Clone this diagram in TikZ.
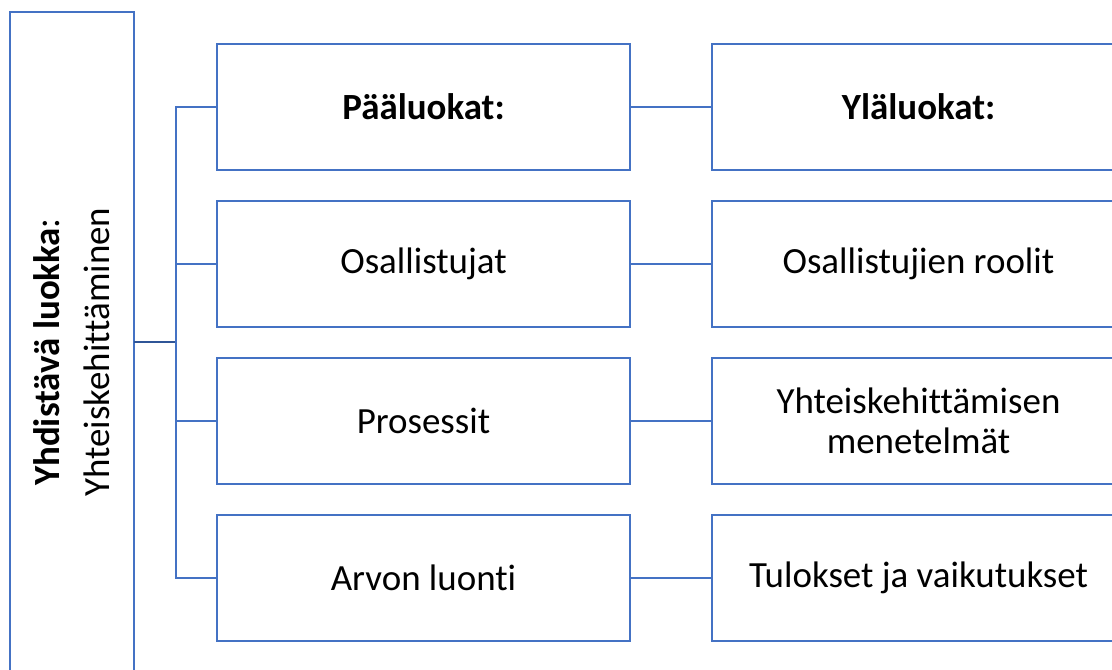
\documentclass[tikz,border=0pt]{standalone}
\usepackage{fontspec}
\setmainfont[Ligatures=NoCommon]{Carlito}
\usetikzlibrary{positioning}
\definecolor{boxblue}{RGB}{68,114,196}
\definecolor{linkblue}{RGB}{47,85,151}
\tikzset{
  catbox/.style={draw=boxblue,line width=2.1pt,minimum width=309.75pt,minimum height=94.5pt,
    inner sep=0pt,align=center,font=\fontsize{27.7}{30}\selectfont},
  link/.style={draw=boxblue,line width=1.6pt},
}

\begin{document}
\begin{tikzpicture}[x=0.75pt,y=-0.75pt]
  \useasboundingbox (0,0) rectangle (1112,670);
  \begin{scope}
  \clip (0,0) rectangle (1112,670);
  % left column, runs past the bottom edge
  \draw[boxblue,line width=2.1pt] (10,12) rectangle (134,720);
  \node [rotate=90,align=center,font=\fontsize{27.7}{37.5}\selectfont] (yhd) at (72,352)
    {\textbf{Yhdistävä luokka}:\\Yhteiskehittäminen};
  \coordinate (root) at (134,342);
  % main classes
  \node [catbox] (paa) at (423.5,107) {\textbf{Pääluokat:}};
  \node [catbox] (osa) at (423.5,264) {Osallistujat};
  \node [catbox] (pro) at (423.5,421) {Prosessit};
  \node [catbox] (arv) at (423.5,578) {Arvon luonti};
  % upper classes
  \node [catbox] (yla) at (918.5,107) {\textbf{Yläluokat:}};
  \node [catbox] (rol) at (918.5,264) {Osallistujien roolit};
  \node [catbox] (men) at (918.5,421) {Yhteiskehittämisen\\menetelmät};
  \node [catbox] (tul) at (918.5,578) {Tulokset ja vaikutukset};
  \end{scope}
  % bracket
  \coordinate (fork) at (176,342);
  \draw[draw=linkblue,line width=2.1pt] (root) -- (fork);
  \draw[link] (paa.west) -| (fork) |- (arv.west);
  \draw[link] (osa.west) -- (osa.west -| fork);
  \draw[link] (pro.west) -- (pro.west -| fork);
  % pairs
  \draw[link] (paa) -- (yla);
  \draw[link] (osa) -- (rol);
  \draw[link] (pro) -- (men);
  \draw[link] (arv) -- (tul);
\end{tikzpicture}
\end{document}
